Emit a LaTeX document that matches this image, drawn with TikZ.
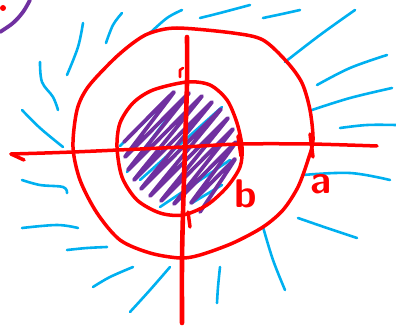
\documentclass[tikz,border=0pt]{standalone}
\usepackage{tikz}
\usepackage{xcolor}
\definecolor{inkred}{HTML}{FF0000}
\definecolor{inkblue}{HTML}{00B0F0}
\definecolor{inkpurple}{HTML}{7030A0}
\begin{document}
\begin{tikzpicture}[x=1pt,y=-1pt,
		redline/.style={draw=inkred,line width=3.5pt,line cap=round,line join=round},
		blueline/.style={draw=inkblue,line width=2.6pt,line cap=round,line join=round},
		purpleline/.style={draw=inkpurple,line width=3.8pt,line cap=round,line join=round},
		lbl/.style={text=inkred,font=\fontsize{40}{40}\selectfont\sffamily\bfseries,inner sep=0pt,anchor=base}]
			\useasboundingbox (0,0) rectangle (396,326);
			% corner marks
			\fill[inkred] (3,8) circle (3);
			\draw[purpleline] plot[smooth,tension=0.6] coordinates {(0,32) (13,23) (23,12) (30,0)};
			% field strokes
			\foreach \pts in {
				{(83,23) (78,47) (67,75)},
				{(122,13) (113,25) (106,43)},
				{(182,10) (167,18) (150,33)},
				{(200,18) (220,13) (250,5)},
				{(263,18) (282,14) (300,10)},
				{(285,62) (320,35) (355,10)},
				{(317,85) (350,68) (387,55)},
				{(312,110) (350,98) (392,88)},
				{(340,128) (367,125) (396,125)},
				{(303,175) (350,173) (390,180)},
				{(298,218) (327,228) (357,238)},
				{(263,227) (273,260) (285,290)},
				{(220,267) (218,287) (217,303)},
				{(170,267) (150,290) (130,312)},
				{(133,267) (110,277) (93,287)},
				{(67,250) (87,248) (107,247)},
				{(22,228) (57,225) (78,228)},
				{(22,180) (40,185) (63,187) (67,193)},
				{(22,110) (40,128) (63,147)},
				{(40,62) (42,82) (53,97) (58,110)},
				{(120,146) (170,97)},
				{(127,172) (175,108)},
				{(140,180) (222,107)},
				{(160,207) (230,160)},
				{(192,203) (222,185)}}
				\draw[blueline] plot[smooth,tension=0.6] coordinates \pts;
			% charge
			\draw[purpleline] plot[smooth,tension=0.2] coordinates {(124,142) (174,92) (125,157) (189,93) (128,170) (202,96) (134,180) (212,102) (141,189) (221,109) (150,196) (228,118) (161,201) (233,129) (174,204) (236,142) (191,203) (235,159) (200,212)};
			% spheres
			\draw[redline] plot[smooth cycle,tension=0.5] coordinates {(177,28) (233,33) (263,40) (287,62) (302,83) (310,110) (313,140) (308,160) (298,187) (283,210) (263,227) (233,243) (200,255) (180,258) (150,253) (120,240) (97,213) (80,180) (73,147) (77,110) (88,87) (113,60) (133,43) (150,33)};
			\draw[redline] plot[smooth cycle,tension=0.5] coordinates {(187,82) (210,85) (227,100) (237,123) (242,147) (240,167) (227,187) (207,205) (183,215) (160,213) (137,200) (122,177) (117,147) (120,123) (133,103) (153,90)};
			% axes
			\coordinate (xl) at (11,154);
			\coordinate (xr) at (377,146);
			\coordinate (yt) at (187,37);
			\coordinate (yb) at (182,323);
			\draw[redline] (24,160) -- (xl);
			\draw[redline] plot[smooth,tension=0.5] coordinates {(xl) (73,152) (183,147) (240,144) (310,144) (xr)};
			\draw[redline,line width=4.6pt] plot[smooth,tension=0.5] coordinates {(yt) (187,83) (185,147) (183,213) (182,260) (yb)};
			\draw[redline,line width=2.6pt] (180,77) -- (180,70) -- (183,68);
			% ticks
			\draw[redline] (238,136) -- (241,156);
			\draw[redline] (310,134) -- (313,157);
			\draw[redline] (188,212) -- (190,227);
			% radii
			\node[lbl] (b) at (246,207) {b};
			\node[lbl] (a) at (321,193) {a};
		\end{tikzpicture}
\end{document}
